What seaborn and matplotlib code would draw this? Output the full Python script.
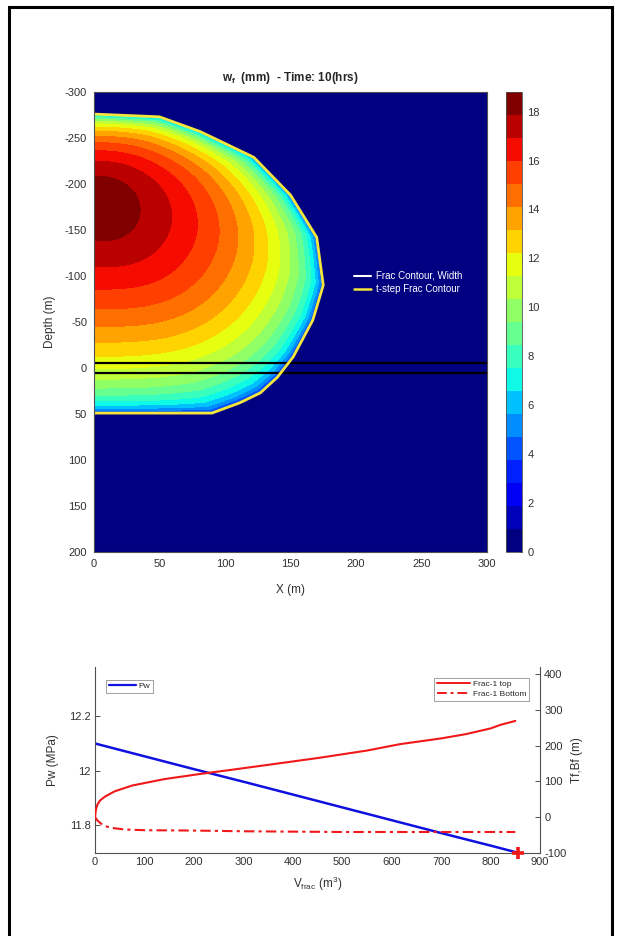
import numpy as np
import pandas as pd
import matplotlib
matplotlib.use("Agg")
import matplotlib.pyplot as plt
from matplotlib.colors import ListedColormap, BoundaryNorm
from matplotlib.patches import Rectangle
from matplotlib.lines import Line2D
import seaborn as sns

# ---- fracture footprint at t = 10 hrs (half-wing, x >= 0), metres ----
contour_x = [0, 50, 81, 122, 150, 170, 175, 167, 152, 140, 127, 111, 90, 0]
contour_z = [-276, -273, -257, -229, -188, -142, -90, -52, -12, 10, 27, 38, 49, 49]
w_max = 18.8            # peak opening, mm
w_peak_depth = -173     # depth of the peak opening at x = 0
layer_lines = [-5, 5]   # perforated interval bounds

# ---- injection history ----
pw_v = [0, 100, 200, 300, 400, 500, 600, 700, 800, 855]
pw_mpa = [12.100, 12.053, 12.006, 11.960, 11.913, 11.866, 11.819, 11.772, 11.726, 11.700]

top_v = [0, 2, 5, 10, 20, 40, 75, 140, 210, 270, 350, 450, 550, 617, 700, 750, 800, 820, 850]
top_m = [0, 22, 35, 46, 57, 72, 88, 106, 120, 131, 146, 165, 186, 204, 220, 232, 248, 258, 269]

bot_v = [0, 5, 15, 30, 60, 100, 200, 300, 400, 500, 600, 700, 850]
bot_m = [0, -10, -22, -30, -35, -37, -38, -40, -41, -42, -42, -42, -42]

end_v, end_m = 855, -100

W, H = 621, 936
sns.set_theme(style="white")
plt.rcParams["font.family"] = ["Liberation Sans", "DejaVu Sans"]
plt.rcParams["mathtext.fontset"] = "custom"
plt.rcParams["mathtext.rm"] = "Liberation Sans"
plt.rcParams["mathtext.bf"] = "Liberation Sans:bold"
plt.rcParams["axes.unicode_minus"] = False
plt.rcParams["axes.edgecolor"] = "#505050"
plt.rcParams["axes.linewidth"] = 0.8
plt.rcParams["xtick.color"] = "#505050"
plt.rcParams["ytick.color"] = "#505050"
plt.rcParams["xtick.labelcolor"] = "#303030"
plt.rcParams["ytick.labelcolor"] = "#303030"

fig = plt.figure(figsize=(W / 100, H / 100), dpi=100)
fig.patch.set_facecolor("white")


def fx(px):
    return px / W


def fy(py):
    return 1 - py / H


# ---------------- width map ----------------
ax = fig.add_axes([fx(94), fy(552), fx(487) - fx(94), fy(92) - fy(552)])

bx = np.array(contour_x, float)
bz = np.array(contour_z, float)
cx, cz = 0.0, float(w_peak_depth)
ang_b = np.arctan2(bz - cz, bx - cx)


def tip_radius(theta):
    """Distance from the peak to the outline along direction theta."""
    i = np.clip(np.searchsorted(ang_b, theta) - 1, 0, len(ang_b) - 2)
    p1x, p1z = bx[i] - cx, bz[i] - cz
    ex, ez = bx[i + 1] - bx[i], bz[i + 1] - bz[i]
    return (p1x * ez - p1z * ex) / (np.cos(theta) * ez - np.sin(theta) * ex)


# smoothed outline radius for the interior iso-width curves
th = np.linspace(-np.pi / 2, np.pi / 2, 721)
rp = tip_radius(th)
k = np.exp(-0.5 * (np.arange(-150, 151) / 50.0) ** 2)
k /= k.sum()
rs = np.convolve(np.pad(rp, 150, mode="reflect"), k, mode="valid")

xs = np.linspace(0, 300, 601)
zs = np.linspace(-300, 200, 1001)
X, Z = np.meshgrid(xs, zs)
dist = np.hypot(X - cx, Z - cz)
theta = np.arctan2(Z - cz, X - cx)
r_poly = dist / tip_radius(theta)
r_smooth = dist / np.interp(theta, th, rs)
blend = np.clip(r_poly, 0, 1) ** 8
r = r_smooth * (1 - blend) + r_poly * blend
slope = 0.16 + 0.12 * np.sin(theta)
shape = np.clip(1 - r ** 2, 0, 1) ** 0.3 * (1 - slope * r)
width = np.where(r_poly < 1, w_max * shape, 0.0)

levels = np.linspace(0, w_max, 21)
cmap = ListedColormap(plt.cm.jet(np.linspace(0, 1, 20)))
norm = BoundaryNorm(levels, cmap.N)
ax.set_facecolor(cmap(0))
cf = ax.contourf(X, Z, width, levels=levels, cmap=cmap, norm=norm)

for d in layer_lines:
    ax.axhline(d, color="black", lw=1.6)
ax.plot(contour_x, contour_z, color="#f5e63c", lw=2.0)

ax.set_xlim(0, 300)
ax.set_ylim(200, -300)
ax.set_xticks(np.arange(0, 301, 50))
ax.set_yticks(np.arange(-300, 201, 50))
ax.tick_params(direction="out", length=3, width=0.7, labelsize=8, pad=2)
ax.set_xlabel("X (m)", fontsize=8.5, color="#303030", labelpad=11)
ax.set_ylabel("Depth (m)", fontsize=8.5, color="#303030", labelpad=6)
ax.set_title(r"w$_\mathbf{f}$  (mm)  - Time: 10(hrs)", fontsize=8.5,
             fontweight="bold", pad=8)

handles = [Line2D([], [], color="white", lw=1.5),
           Line2D([], [], color="#f5e63c", lw=1.8)]
leg = ax.legend(handles, ["Frac Contour, Width", "t-step Frac Contour"],
                loc="upper left", bbox_to_anchor=(0.64, 0.63), frameon=False,
                fontsize=7, labelcolor="white", handlelength=1.7,
                handletextpad=0.5, labelspacing=0.35)

cax = fig.add_axes([fx(506), fy(552), fx(522) - fx(506), fy(92) - fy(552)])
cb = fig.colorbar(cf, cax=cax, ticks=np.arange(0, 19, 2))
cb.outline.set_linewidth(0.6)
cb.outline.set_edgecolor("#505050")
cax.minorticks_off()
cax.tick_params(which="both", labelsize=8, length=2, width=0.6,
                direction="in", pad=4)

# ---------------- pressure / height history ----------------
bx_ax = fig.add_axes([fx(95), fy(852.7), fx(540) - fx(95), fy(667) - fy(852.7)])
tw = bx_ax.twinx()

sns.lineplot(x=pw_v, y=pw_mpa, ax=bx_ax, color="#1010e0", lw=1.8, sort=False)
sns.lineplot(x=top_v, y=top_m, ax=tw, color="#f01818", lw=1.5, sort=False)
sns.lineplot(x=bot_v, y=bot_m, ax=tw, color="#f01818", lw=1.5, sort=False,
             linestyle=(0, (5, 2, 1.5, 2)))
tw.plot([end_v], [end_m], marker="+", ms=9, mew=2.6, color="#f01818",
        clip_on=False, zorder=5)

bx_ax.set_xlim(0, 900)
bx_ax.set_ylim(11.70, 12.38)
bx_ax.set_xticks(np.arange(0, 901, 100))
bx_ax.set_yticks([11.8, 12.0, 12.2])
bx_ax.set_yticklabels(["11.8", "12", "12.2"])
tw.set_ylim(-100, 420)
tw.set_yticks(np.arange(-100, 401, 100))

for a in (bx_ax, tw):
    a.spines["top"].set_visible(False)
    a.tick_params(direction="in", length=3.5, width=0.7, labelsize=8, pad=3)
bx_ax.spines["right"].set_visible(False)
tw.spines["left"].set_visible(False)
tw.spines["bottom"].set_visible(False)

bx_ax.set_xlabel(r"V$_\mathregular{frac}$ (m$^\mathregular{3}$)", fontsize=8.5,
                 color="#303030", labelpad=6)
bx_ax.set_ylabel("Pw (MPa)", fontsize=8.5, color="#303030", labelpad=7)
tw.set_ylabel("Tf,Bf (m)", fontsize=8.5, color="#303030", labelpad=3)

lg1 = bx_ax.legend([Line2D([], [], color="#1010e0", lw=1.6)], ["Pw"],
                   loc="upper left", bbox_to_anchor=(0.016, 0.955), fontsize=6,
                   fancybox=False, framealpha=1, edgecolor="#909090",
                   handlelength=3.2, handletextpad=0.3, borderpad=0.35)
lg1.get_frame().set_linewidth(0.6)
lg2 = tw.legend([Line2D([], [], color="#f01818", lw=1.4),
                 Line2D([], [], color="#f01818", lw=1.4, linestyle=(0, (5, 2, 1.5, 2)))],
                ["Frac-1 top", "Frac-1 Bottom"],
                loc="upper right", bbox_to_anchor=(0.985, 0.965), fontsize=6,
                fancybox=False, framealpha=1, edgecolor="#909090",
                handlelength=4, handletextpad=0.3, borderpad=0.35,
                labelspacing=0.25)
lg2.get_frame().set_linewidth(0.6)

# page frame
fig.add_artist(Rectangle((fx(9), -0.02), fx(612) - fx(9), fy(7) + 0.02,
                         transform=fig.transFigure, fill=False,
                         edgecolor="black", lw=2.2))

fig.savefig("out.png", dpi=100, facecolor="white")
